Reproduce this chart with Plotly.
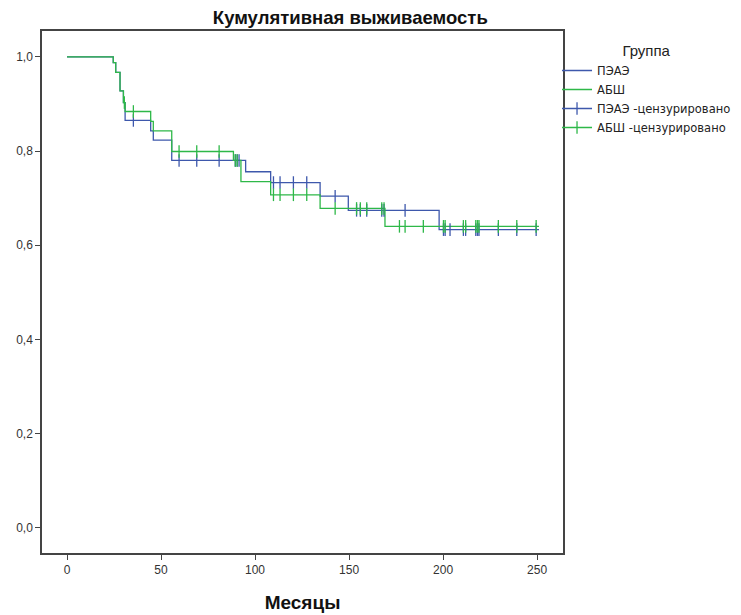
import numpy as np
import plotly.graph_objects as go

# --- data ---
group_names = ["ПЭАЭ", "АБШ"]
censor_names = ["ПЭАЭ -цензурировано", "АБШ -цензурировано"]

paee_times = [0, 24.6, 25.9, 28.2, 30.0, 30.9, 44.5, 45.9, 55.7, 95.0, 108.3, 134.6, 149.6, 197.9, 251.0]
paee_surv = [1.0, 0.988, 0.967, 0.928, 0.903, 0.865, 0.843, 0.823, 0.780, 0.756, 0.733, 0.704, 0.674, 0.633, 0.633]

absh_times = [0, 24.6, 25.9, 28.2, 30.0, 30.9, 44.5, 45.9, 55.7, 88.5, 92.5, 108.3, 134.6, 169.1, 251.0]
absh_surv = [1.0, 0.988, 0.967, 0.928, 0.903, 0.884, 0.863, 0.843, 0.799, 0.780, 0.735, 0.707, 0.678, 0.640, 0.640]

paee_censored = [35.3, 59.6, 69.0, 80.9, 89.5, 90.5, 91.5, 109.8, 113.3, 120.4, 127.5, 142.6,
                 154.0, 156.0, 159.4, 167.4, 168.6, 179.8, 200.2, 201.1, 203.7, 210.8, 212.0,
                 217.4, 218.3, 219.1, 229.4, 239.2, 249.5]
absh_censored = [30.5, 35.3, 59.6, 69.0, 80.9, 89.5, 90.5, 109.8, 113.3, 120.4, 127.5, 142.6,
                 154.0, 156.0, 159.4, 167.4, 168.6, 176.8, 179.8, 189.5, 200.2, 201.1, 210.8,
                 212.0, 217.4, 218.3, 219.1, 229.4, 239.2, 249.5]

x_ticks = [0, 50, 100, 150, 200, 250]
y_ticks = [0.0, 0.2, 0.4, 0.6, 0.8, 1.0]

BLUE = "#3E58AC"
GREEN = "#2EB848"
FONT = "Liberation Sans, Arial, sans-serif"
LEG_FONT = "DejaVu Sans, Verdana, sans-serif"


def surv_at(times, surv, t):
    idx = np.searchsorted(np.array(times), np.array(t), side="right") - 1
    return list(np.array(surv)[idx])


def with_gaps(xs, ys):
    gx, gy = [], []
    for a, b in zip(xs, ys):
        gx += [a, None]
        gy += [b, None]
    return gx, gy


fig = go.Figure()

fig.add_trace(go.Scatter(x=paee_times, y=paee_surv, mode="lines", line_shape="hv",
                         line=dict(color=BLUE, width=1.3), name=group_names[0]))
fig.add_trace(go.Scatter(x=absh_times, y=absh_surv, mode="lines", line_shape="hv",
                         line=dict(color=GREEN, width=1.3), name=group_names[1]))

for times, surv, cens, col, nm in [
    (paee_times, paee_surv, paee_censored, BLUE, censor_names[0]),
    (absh_times, absh_surv, absh_censored, GREEN, censor_names[1]),
]:
    cy = surv_at(times, surv, cens)
    gx, gy = with_gaps(cens, cy)
    fig.add_trace(go.Scatter(x=gx, y=gy, mode="lines+markers", connectgaps=False,
                             line=dict(color=col, width=1.3),
                             marker=dict(symbol="line-ns", size=9,
                                         line=dict(color=col, width=1.3)),
                             name=nm))

# page body has an 8px margin, so the figure is sized/offset to compensate;
# the plot's right edge is set through the x-axis domain so the legend never pushes margins
fig.update_layout(
    width=733, height=607,
    margin=dict(l=34, r=0, t=23, b=62),
    paper_bgcolor="white", plot_bgcolor="white",
    separators=", ",
    font=dict(family=FONT, size=12, color="#222"),
    title=dict(text="<b>Кумулятивная выживаемость</b>", xref="container", x=0.467,
               xanchor="center", yref="container", y=0.985, yanchor="middle",
               font=dict(family=FONT, size=18.5, color="#111")),
    showlegend=True,
    legend=dict(x=0.7368, xanchor="left", y=0.9895, yanchor="top",
                title=dict(text="Группа", side="top center",
                           font=dict(family=FONT, size=15, color="#222")),
                font=dict(family=LEG_FONT, size=11.5, color="#222"),
                bgcolor="rgba(0,0,0,0)", itemwidth=30, tracegroupgap=0),
)

fig.update_xaxes(domain=[0, 0.7454], range=[-13.3, 263.8], tickvals=x_ticks,
                 ticktext=[str(v) for v in x_ticks], automargin=False,
                 showgrid=False, zeroline=False, showline=True, linecolor="#444", linewidth=1.5,
                 mirror=True, ticks="outside", ticklen=5, tickwidth=1.3, tickcolor="#444",
                 tickfont=dict(family=FONT, size=12, color="#333"),
                 title=dict(text="<b>Месяцы</b>", standoff=20,
                            font=dict(family=FONT, size=19, color="#111")))
fig.update_yaxes(range=[-0.054, 1.055], tickvals=y_ticks, tickformat=".1f",
                 automargin=False,
                 showgrid=False, zeroline=False, showline=True, linecolor="#444", linewidth=1.5,
                 mirror=True, ticks="outside", ticklen=5, tickwidth=1.3, tickcolor="#444",
                 tickfont=dict(family=FONT, size=12, color="#333"))

fig.write_html("out.html")
